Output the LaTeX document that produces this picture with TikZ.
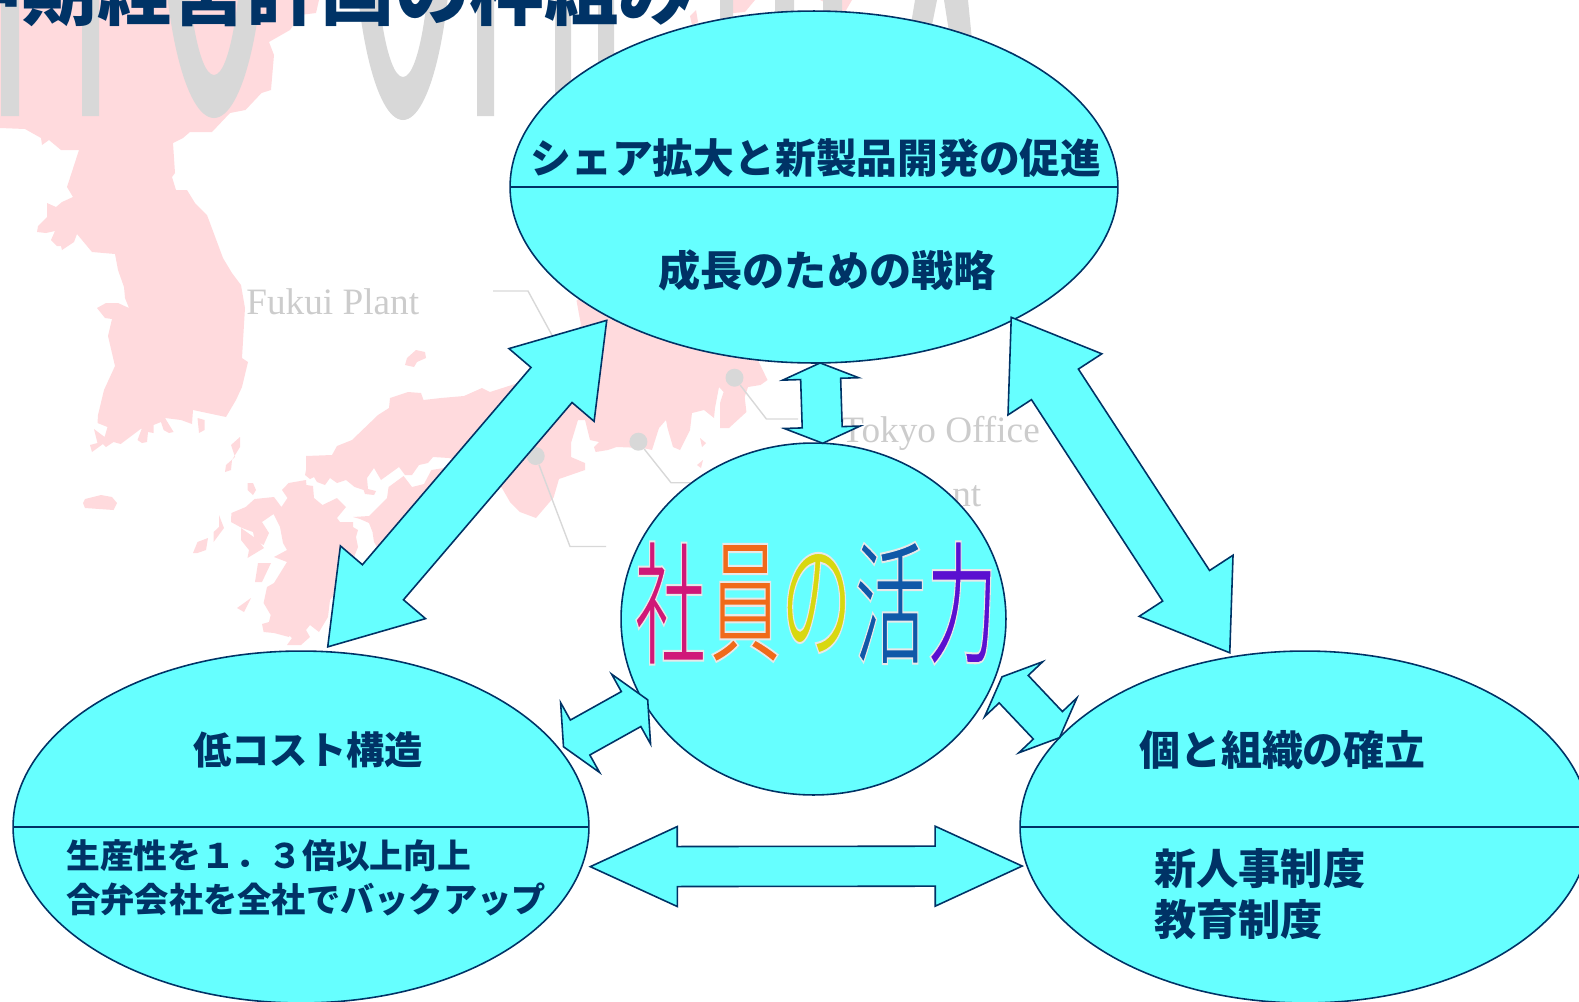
\documentclass[tikz,border=0pt]{standalone}
\usepackage{fontspec}
\newfontfamily\cjk{Noto Sans CJK JP}
\newfontfamily\cjkedge{Noto Sans CJK JP}[FakeBold=1.5]
\setmainfont{Liberation Serif}
\usetikzlibrary{calc,shapes.geometric}

\definecolor{navy}{HTML}{003366}
\definecolor{aqua}{HTML}{66FFFF}
\definecolor{mapink}{HTML}{FFDADD}
\definecolor{ghost}{HTML}{D8D8D8}
\definecolor{plantgray}{HTML}{CCCCCC}
\definecolor{vigormagenta}{HTML}{D01878}
\definecolor{vigororange}{HTML}{F06A1A}
\definecolor{vigoryellow}{HTML}{D8D810}
\definecolor{vigorblue}{HTML}{1058A8}
\definecolor{vigorviolet}{HTML}{5A10D0}

\newcommand{\edged}[1]{\special{pdf:code 0.91 0.91 0.91 RG}#1}

\tikzset{
oval/.style={ellipse,draw=navy,fill=aqua,line width=.9pt,inner sep=0,outer sep=0},
caption/.style args={#1/#2}{text=navy,inner sep=0,font=\cjk\bfseries\fontsize{#1pt}{#2pt}\selectfont},
plant/.style={text=plantgray,inner sep=0,font=\fontsize{21.2pt}{21.2pt}\selectfont},
pin/.style={circle,fill=ghost,inner sep=0,minimum size=.36cm},
leader/.style={draw=ghost,line width=.8pt},
vigor/.style={text=#1,inner sep=0,yscale=1.88,transform shape,font=\cjkedge\fontsize{40.5pt}{40.5pt}\selectfont},
blockarrow/.style args={#1/#2/#3}{draw=navy,fill=aqua,line width=.9pt,to path={
 -- ($(\tikztostart)!#3*0.02cm!(\tikztotarget)!#1*0.02cm!90:(\tikztotarget)$)
 -- ($(\tikztostart)!#3*0.02cm!(\tikztotarget)!#2*0.02cm!90:(\tikztotarget)$)
 -- ($(\tikztotarget)!#3*0.02cm!(\tikztostart)!-#2*0.02cm!90:(\tikztostart)$)
 -- ($(\tikztotarget)!#3*0.02cm!(\tikztostart)!-#1*0.02cm!90:(\tikztostart)$)
 -- (\tikztotarget)
 -- ($(\tikztotarget)!#3*0.02cm!(\tikztostart)!#1*0.02cm!90:(\tikztostart)$)
 -- ($(\tikztotarget)!#3*0.02cm!(\tikztostart)!#2*0.02cm!90:(\tikztostart)$)
 -- ($(\tikztostart)!#3*0.02cm!(\tikztotarget)!-#2*0.02cm!90:(\tikztotarget)$)
 -- ($(\tikztostart)!#3*0.02cm!(\tikztotarget)!-#1*0.02cm!90:(\tikztotarget)$)
 -- cycle}}
}

\begin{document}
\begin{tikzpicture}[x=0.02cm,y=-0.02cm]
\useasboundingbox (0,0) rectangle (1579,1001);
\clip (0,0) rectangle (1579,1001);

%map
\fill[mapink] (0,0) -- (0,128) -- (25,129) -- (41,138) -- (42,145) -- (49,140) -- (61,150) -- (79,150) -- (67,187) -- (73,197) -- (62,202) -- (56,207) -- (47,203) -- (47,217) -- (38,226) -- (37,232) -- (46,233) -- (55,231) -- (51,240) -- (57,246) -- (61,246) -- (62,250) -- (74,242) -- (77,234) -- (92,252) -- (115,254) -- (118,270) -- (124,287) -- (125,298) -- (129,308) -- (118,303) -- (106,303) -- (97,308) -- (105,318) -- (112,319) -- (108,336) -- (115,366) -- (104,390) -- (98,415) -- (97.5,423) -- (107.5,427) -- (104.6,437) -- (94,429) -- (97.5,443) -- (90,445) -- (92,452) -- (103,444) -- (106,447) -- (113.5,442) -- (120.7,444) -- (142,428) -- (137.5,440) -- (142,443) -- (147,442) -- (148,432) -- (153.5,433) -- (153.5,425) -- (161,422) -- (163.6,430) -- (169,433) -- (173.6,432) -- (165,418) -- (181,420) -- (192,424) -- (193,410) -- (226,417) -- (236,400) -- (242,387) -- (248,362) -- (242,358) -- (245,308) -- (241,285) -- (232,273) -- (223,258) -- (207,215) -- (195,203) -- (187,190) -- (176,190) -- (172,177) -- (175,173) -- (173,143) -- (183,138) -- (190,132) -- (212,132) -- (230,113) -- (245.5,110) -- (261.5,93) -- (271,90) -- (274,55) -- (269,42) -- (290,30) -- (300,15) -- (316,13) -- (319,0) -- cycle;
\fill[mapink] (306,456) -- (332,455) -- (337,446) -- (352,440) -- (378,415) -- (389,408) -- (390,398) -- (408,392) -- (421,393) -- (423.5,400) -- (441,398) -- (464,396) -- (482,388) -- (490,392) -- (515,384) -- (560,365) -- (581,325) -- (576.5,300.6) -- (590,290) -- (700,300) -- (757,340) -- (758.7,361.7) -- (767.5,380) -- (760.5,385) -- (748,387) -- (744.7,397) -- (746.4,412) -- (729,428) -- (720,428) -- (720,403) -- (723.6,392) -- (719,387) -- (715,408) -- (714,418) -- (704,410) -- (692,413) -- (690,430) -- (680,450) -- (673,447) -- (667.5,428) -- (666,420) -- (659,428) -- (652,450) -- (643,448) -- (616.6,447) -- (608,450) -- (595.6,452) -- (594,447) -- (599,442) -- (590,440) -- (585,420) -- (578,420) -- (571,443) -- (571,457) -- (585,463) -- (585,470) -- (559,479) -- (553.6,497.5) -- (536,518) -- (520,512) -- (510,502) -- (502.5,489) -- (490,470) -- (449,458) -- (433,457) -- (428,463) -- (419,465) -- (412,475) -- (405,475) -- (399,467) -- (381,480) -- (374,468) -- (367,478) -- (368,489) -- (376,491) -- (374,495) -- (365,494) -- (363.6,490) -- (354.6,487) -- (346,480) -- (337,483) -- (330,478) -- (325,485) -- (317,482) -- (314,477) -- (310,479) -- (305,475) -- (306,470) -- cycle;
\fill[mapink] (353,517) -- (369,516) -- (378,507) -- (387,498) -- (388.6,487) -- (403.6,476) -- (412,487) -- (424,484) -- (431.4,470) -- (444,468) -- (470,480) -- (385,560) -- (374,542) -- (372.5,532) -- (369,523) -- (360,519) -- cycle;
\fill[mapink] (288.6,483) -- (306,480) -- (306.4,485) -- (313,486) -- (314,498) -- (322.5,505) -- (337,498) -- (346,507) -- (337,518) -- (340,522) -- (353,522) -- (353,527) -- (358,530) -- (356,537) -- (358,547) -- (345,580) -- (330,600) -- (328,617) -- (319,632) -- (310,625) -- (306,630) -- (310,637) -- (301,645) -- (287,645) -- (292,638) -- (283,630) -- (283,613) -- (289,606) -- (296,610) -- (289,637) -- (274,633) -- (263.6,632) -- (262,624) -- (269,622) -- (270.7,615) -- (263.6,603) -- (267,587) -- (274,583) -- (287,562) -- (274,557) -- (287,550) -- (283,543) -- (280,527) -- (273.6,514) -- (262,522) -- (269,533) -- (263.6,545) -- (254.6,540) -- (253,532) -- (242,528) -- (231,522) -- (231.4,513) -- (245.7,507) -- (254.6,499) -- (274,497) -- (281.4,507) -- (287.5,498) -- (282,490) -- cycle;
\fill[mapink] (241,528) -- (241,540) -- (249,550) -- (247.5,558) -- (264,548) -- (258,540) -- cycle;
\fill[mapink] (258,563) -- (271,563) -- (262,582) -- (255,582) -- cycle;
\fill[mapink] (83,503) -- (85,499) -- (101,495) -- (112,497) -- (117,503) -- (113.6,510) -- (85,508) -- cycle;
\fill[mapink] (240,437) -- (231,445) -- (235,457) -- (226,465) -- (225,472) -- (231,470) -- (232,460) -- (240,447) -- cycle;
\fill[mapink] (247.5,483) -- (253,483) -- (256,490) -- (253,495) -- (247.5,490) -- cycle;
\fill[mapink] (193,553) -- (197.5,542) -- (208,538) -- (206,550) -- (197.5,553) -- cycle;
\fill[mapink] (219,515) -- (224,528) -- (213.6,542) -- (213.6,532) -- (219,527) -- cycle;
\fill[mapink] (237,608) -- (251,598) -- (244,612) -- cycle;
\fill[mapink] (416,350) -- (425,352) -- (426,358) -- (417,362) -- (414,367) -- (405,365) -- (407,358) -- cycle;
\fill[mapink] (197.5,418) -- (204.6,420) -- (204.6,430) -- (199,433) -- cycle;
\fill[mapink] (700,438) -- (706,443) -- (702,447) -- cycle;
\fill[mapink] (697,465) -- (703,460) -- (701,468) -- cycle;
\fill[mapink] (722,0) -- (722,14) -- (745,12) -- (755,0) -- cycle;
\fill[mapink] (820,0) -- (845,12) -- (852,0) -- cycle;
\fill[mapink] (690,16) -- (696,10) -- (698,22) -- (692,25) -- cycle;

%backdrop letters
\fill[ghost] (1,0) rectangle (19,116) (82,0) rectangle (99,116);
\fill[ghost,even odd rule] (214,-100) ellipse (52 and 218) (214,-100) ellipse (29 and 175);
\fill[ghost,even odd rule] (403,-100) ellipse (50 and 220) (403,-100) ellipse (29 and 177);
\fill[ghost] (477,0) rectangle (494,116) (555,0) rectangle (571,116) (598,0) rectangle (614,116);
\fill[ghost] (720,0) rectangle (733,20) (775,0) rectangle (794,20) (823,0) rectangle (842,20);
\fill[ghost] (915,0) -- (937,0) -- (925,60) -- (905,60) -- cycle (944,0) -- (968,0) -- (975,70) -- (955,70) -- cycle;

%plants
\node[pin] (tokyopin) at (734.5,377.7) {};
\node[pin] (nagoyapin) at (638.4,441.7) {};
\node[pin] (kobepin) at (535.7,456) {};
\coordinate (fukuifoot) at (560,350);
\coordinate (fukuibend) at (528,291);
\coordinate (fukuiend) at (493,291);
\coordinate (tokyobend) at (766.4,419);
\coordinate (tokyoend) at (798,419);
\coordinate (nagoyabend) at (671,482.7);
\coordinate (nagoyaend) at (690,482.7);
\coordinate (kobebend) at (570,546.5);
\coordinate (kobeend) at (606,546.5);
\draw[leader] (fukuiend) -- (fukuibend) -- (fukuifoot);
\draw[leader] (tokyopin) -- (tokyobend) -- (tokyoend);
\draw[leader] (nagoyapin) -- (nagoyabend) -- (nagoyaend);
\draw[leader] (kobepin) -- (kobebend) -- (kobeend);
\node[plant,anchor=base west] (fukuilabel) at (246,314) {Fukui Plant};
\node[plant,anchor=base west] (tokyolabel) at (841,442) {Tokyo Office};
\node[plant,anchor=base west] (hiddenlabel) at (952,506) {nt};

%title
\node[anchor=base west,text=navy,inner sep=0,font=\cjk\bfseries\fontsize{42.4pt}{42.4pt}\selectfont] (title) at (-52,19) {中期経営計画の枠組み};

% Nodes
\node[oval,minimum width=12.16cm,minimum height=7.04cm] (grow) at (814,187) {};
\node[oval,minimum width=7.7cm,minimum height=7.04cm] (core) at (813.5,619) {};
\node[oval,minimum width=11.52cm,minimum height=7.04cm] (cost) at (301,827) {};
\node[oval,minimum width=11.4cm,minimum height=7.04cm] (staff) at (1305,827) {};

%dividers
\draw[navy,line width=.9pt] (grow.west) -- (grow.east);
\draw[navy,line width=.9pt] (cost.west) -- (cost.east);
\draw[navy,line width=.9pt] (staff.west) -- (staff.east);

%captions
\node[caption=23.2/28] (growtop) at (816,158) {シェア拡大と新製品開発の促進};
\node[caption=24/29] (growlow) at (827,270) {成長のための戦略};
\node[caption=21.8/26] (costtop) at (308,750) {低コスト構造};
\node[caption=19.2/25,align=left,anchor=west] (costlow) at (66,878) {生産性を１．３倍以上向上\\{\fontsize{19.5pt}{25pt}\selectfont 合弁会社を全社でバックアップ}};
\node[caption=23.3/28] (stafftop) at (1282.5,750.5) {個と組織の確立};
\node[caption=24/29,align=left,anchor=west] (stafflow) at (1154,894.5) {新人事制度\\教育制度};

%vigor
\node[vigor=vigormagenta] (vigora) at (670,603) {\edged{社}};
\node[vigor=vigororange] (vigorb) at (745,603) {\edged{員}};
\node[vigor=vigoryellow] (vigorc) at (816.5,603) {\edged{の}};
\node[vigor=vigorblue] (vigord) at (890,603) {\edged{活}};
\node[vigor=vigorviolet] (vigore) at (962,603) {\edged{力}};

%arcs
\path ([shift={(-5,2)}]grow.213) edge[blockarrow={56/27/85}] ([shift={(-1,-5)}]cost.81.5);
\path ([shift={(-5,-1)}]grow.-33.5) edge[blockarrow={56/28/80}] ([shift={(-3,-4)}]staff.113);
\path (grow.-88) edge[blockarrow={38/20/16}] (core.87);
\path ([shift={(4,-2)}]core.206) edge[blockarrow={40/20/19}] ([shift={(5,-1.5)}]cost.17.4);
\path ([shift={(6,2)}]core.-17) edge[blockarrow={40/20/17}] (staff.160);
\path ([shift={(7,5)}]cost.-7.7) edge[blockarrow={40/20/87}] ([shift={(-5,0)}]staff.188);

\end{tikzpicture}
\end{document}
